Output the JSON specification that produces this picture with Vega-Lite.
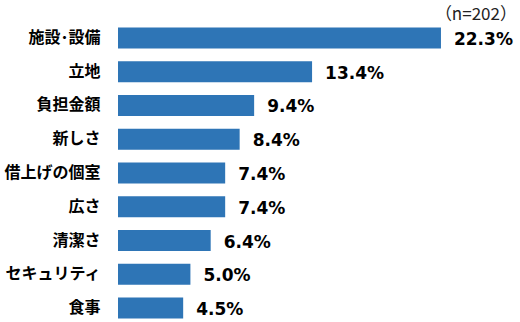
{
  "$schema": "https://vega.github.io/schema/vega-lite/v6.json",
  "autosize": "none",
  "width": 399,
  "height": 291,
  "padding": {"left": 118, "top": 27.5, "right": 3, "bottom": 3.5},
  "background": "white",
  "title": {"text": "（n=202）", "anchor": "end", "fontSize": 17, "fontWeight": "normal", "font": "Noto Sans CJK JP", "color": "#222222", "offset": 4},
  "data": {"values": [
    {"item": "施設･設備", "value": 22.3, "label": "22.3%"},
    {"item": "立地", "value": 13.4, "label": "13.4%"},
    {"item": "負担金額", "value": 9.4, "label": "9.4%"},
    {"item": "新しさ", "value": 8.4, "label": "8.4%"},
    {"item": "借上げの個室", "value": 7.4, "label": "7.4%"},
    {"item": "広さ", "value": 7.4, "label": "7.4%"},
    {"item": "清潔さ", "value": 6.4, "label": "6.4%"},
    {"item": "セキュリティ", "value": 5.0, "label": "5.0%"},
    {"item": "食事", "value": 4.5, "label": "4.5%"}
  ]},
  "encoding": {
    "y": {"field": "item", "type": "nominal", "sort": null,
      "scale": {"paddingInner": 0.38, "paddingOuter": 0},
      "axis": {"title": null, "domain": false, "ticks": false, "labelPadding": 18, "labelFontSize": 16, "labelFont": "Noto Sans CJK JP", "labelFontWeight": "bold", "labelColor": "#000000"}},
    "x": {"field": "value", "type": "quantitative", "scale": {"domain": [0, 27.55], "nice": false}, "axis": null}
  },
  "layer": [
    {"mark": {"type": "bar", "color": "#2E75B6"}},
    {"mark": {"type": "text", "align": "left", "dx": 13, "dy": 2, "fontSize": 17, "fontWeight": "bold", "font": "DejaVu Sans", "color": "#000000"},
     "encoding": {"text": {"field": "label", "type": "nominal"}}}
  ],
  "config": {"view": {"stroke": null}}
}
